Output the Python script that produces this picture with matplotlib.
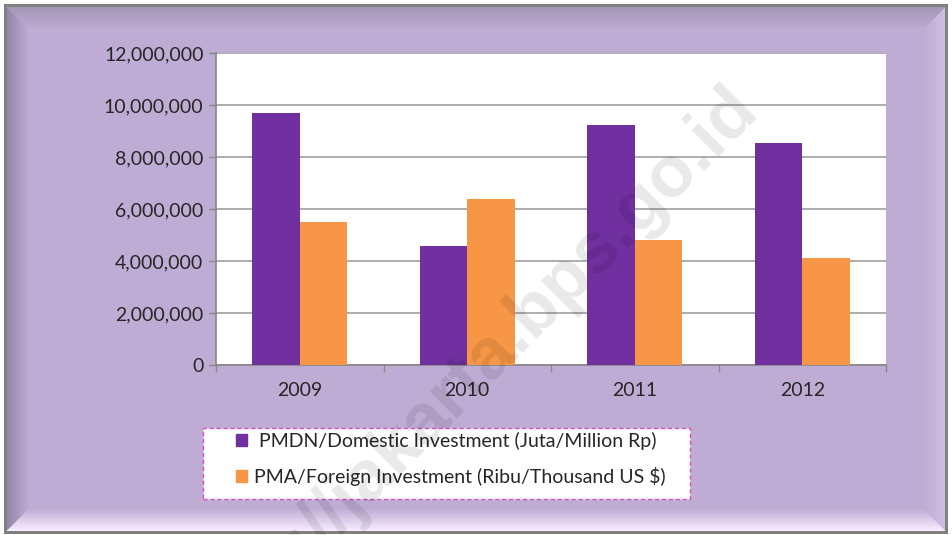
import numpy as np
import matplotlib
matplotlib.use("Agg")
import matplotlib.pyplot as plt
from matplotlib.patches import Patch, Rectangle
from matplotlib.ticker import FuncFormatter

plt.rcParams['font.family'] = ['Lato', 'DejaVu Sans']

# data
years = ['2009', '2010', '2011', '2012']
pmdn = [9680000, 4560000, 9220000, 8530000]
pma = [5490000, 6380000, 4800000, 4100000]
labels = [' PMDN/Domestic Investment (Juta/Million Rp)',
          'PMA/Foreign Investment (Ribu/Thousand US $)']

purple = '#7030A0'
orange = '#F79646'
base = np.array([190, 172, 212]) / 255

W, H = 952, 535
fig = plt.figure(figsize=(W / 100, H / 100), dpi=100)

# background frame with bevel
yy, xx = np.mgrid[0:H, 0:W].astype(float)
img = np.ones((H, W, 3))
x0, y0, x1, y1 = 7, 7, 944, 530
bev = 22.0
dl, dr, dt, db = xx - x0, x1 - xx, yy - y0, y1 - yy
dmin = np.minimum(np.minimum(dl, dr), np.minimum(dt, db))
img[:] = base
sides = [(dl, np.array([150, 135, 172]) / 255),
         (dr, np.array([205, 190, 225]) / 255),
         (dt, np.array([165, 152, 184]) / 255),
         (db, np.array([248, 236, 255]) / 255)]
for d, col in sides:
    m = (d == dmin) & (dmin < bev) & (dmin >= 0)
    t = (d[m] / bev)[:, None]
    img[m] = col * (1 - t) + base * t
inside = (dmin >= 0)
ring = (dmin < 0) & (dmin >= -3)
img[ring] = np.array([128, 128, 128]) / 255
img[~inside & ~ring] = 1.0
bg = fig.add_axes([0, 0, 1, 1], zorder=-5)
bg.imshow(img, aspect='auto', interpolation='nearest')
bg.axis('off')

ax = fig.add_axes([216 / W, 1 - 365 / H, (886 - 216) / W, (365 - 53) / H])
x = np.arange(len(years))
w = 0.284
ax.bar(x - w / 2, pmdn, w, color=purple, zorder=3)
ax.bar(x + w / 2, pma, w, color=orange, zorder=3)

ax.set_xlim(-0.5, len(years) - 0.5)
ax.set_ylim(0, 12000000)
ax.set_yticks(np.arange(0, 12000001, 2000000))
ax.yaxis.set_major_formatter(FuncFormatter(lambda v, p: f'{v:,.0f}'))
ax.grid(axis='y', color='#A0A0A0', lw=1.2, zorder=1)
ax.set_axisbelow(True)

ax.set_xticks(np.arange(-0.5, len(years)), labels=[])
ax.set_xticks(x, labels=years, minor=True)
ax.tick_params(axis='x', which='major', length=5, color='#868686', width=1)
ax.tick_params(axis='x', which='minor', length=0, pad=12, labelsize=14, labelcolor='#262626')
ax.tick_params(axis='y', length=5, color='#868686', width=1, pad=4, labelsize=14,
               labelcolor='#262626')
for s in ['top', 'right']:
    ax.spines[s].set_visible(False)
for s in ['left', 'bottom']:
    ax.spines[s].set_color('#868686')
    ax.spines[s].set_linewidth(1.2)

# legend box
fig.patches.append(Rectangle((203 / W, 1 - 499 / H), (690 - 203) / W, (499 - 428) / H,
                             transform=fig.transFigure, facecolor='white',
                             edgecolor='#D84FC2', lw=1, ls=(0, (3, 2)), zorder=1))
handles = [Patch(color=purple), Patch(color=orange)]
leg = fig.legend(handles, labels, loc='upper left',
                 bbox_to_anchor=(236 / W, 1 - 432 / H), frameon=False,
                 fontsize=14, handlelength=0.55, handleheight=0.55,
                 handletextpad=0.35, labelspacing=0.85, borderpad=0,
                 borderaxespad=0)
for t in leg.get_texts():
    t.set_color('#262626')

# watermark
fig.text(746 / W, 1 - 98 / H, 'http://jakarta.bps.go.id',
         fontsize=52, fontweight='bold', family='Liberation Sans', color='black',
         alpha=0.09, rotation=45, rotation_mode='anchor', ha='right', va='center',
         zorder=10)

fig.savefig('out.png', dpi=100)
